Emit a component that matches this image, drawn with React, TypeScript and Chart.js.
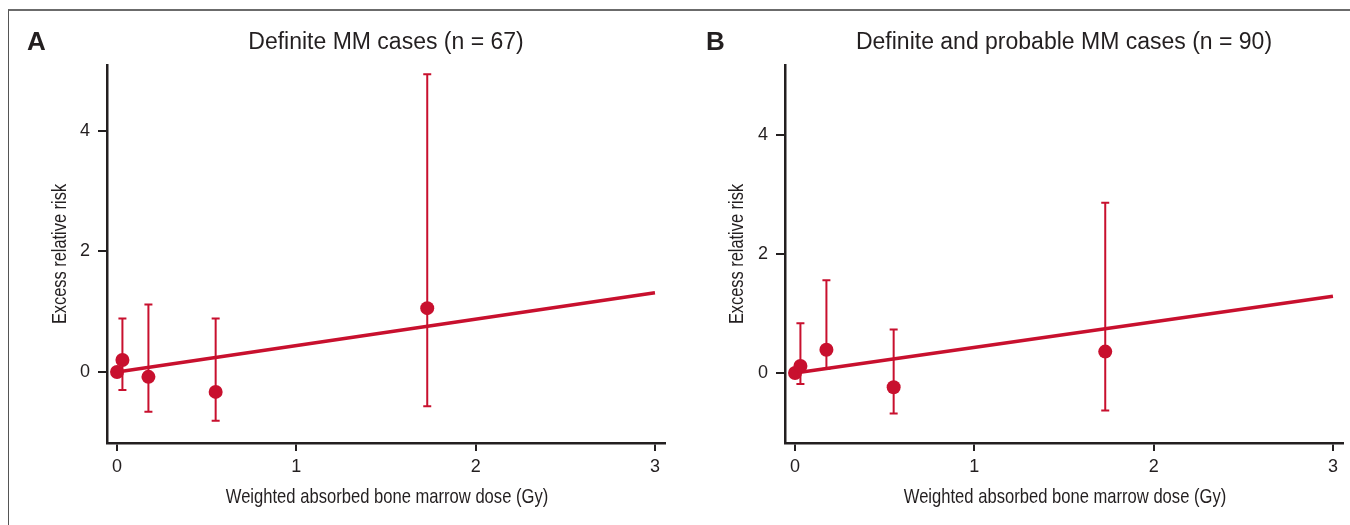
import React, { useEffect, useRef } from "react";
import { Chart, registerables } from "chart.js";

Chart.register(...registerables);

const RED = "#C8102E";
const INK = "#231F20";

// Panel A: definite MM cases (n = 67)
const doseA = [0, 0.03, 0.175, 0.55, 1.73];
const errA = [0, 0.2, -0.08, -0.33, 1.06];
const lowerA: (number | null)[] = [null, -0.3, -0.66, -0.81, -0.57];
const upperA: (number | null)[] = [null, 0.89, 1.12, 0.89, 4.94];
const fitDoseA = [0, 3];
const fitErrA = [0, 1.316];

// Panel B: definite and probable MM cases (n = 90)
const doseB = [0, 0.03, 0.175, 0.55, 1.73];
const errB = [0, 0.12, 0.39, -0.24, 0.36];
const lowerB: (number | null)[] = [null, -0.185, 0.07, -0.68, -0.63];
const upperB: (number | null)[] = [null, 0.835, 1.56, 0.73, 2.86];
const fitDoseB = [0, 3];
const fitErrB = [0, 1.29];

const xTicks = [0, 1, 2, 3];
const yTicks = [0, 2, 4];

const xTitle = "Weighted absorbed bone marrow dose (Gy)";
const yTitle = "Excess relative risk";

const SANS = '"Liberation Sans", Arial, Helvetica, sans-serif';

type PanelProps = {
  letter: string;
  title: string;
  dose: number[];
  err: number[];
  lower: (number | null)[];
  upper: (number | null)[];
  fitDose: number[];
  fitErr: number[];
  width: number;
  left: number;
  padRight: number;
  yAxisWidth: number;
  yMin: number;
  yMax: number;
  yTitleX: number;
  letterX: number;
};

function Panel(p: PanelProps) {
  const ref = useRef<HTMLCanvasElement | null>(null);

  useEffect(() => {
    if (!ref.current) return;

    const errorBars = {
      id: "errorBars",
      beforeDatasetsDraw(chart: any) {
        const { ctx, scales } = chart;
        const xs = scales.x;
        const ys = scales.y;
        ctx.save();
        ctx.strokeStyle = RED;
        ctx.lineWidth = 2;
        p.dose.forEach((d, i) => {
          const lo = p.lower[i];
          const hi = p.upper[i];
          if (lo == null || hi == null) return;
          const px = xs.getPixelForValue(d);
          const pLo = ys.getPixelForValue(lo);
          const pHi = ys.getPixelForValue(hi);
          ctx.beginPath();
          ctx.moveTo(px, pLo);
          ctx.lineTo(px, pHi);
          ctx.moveTo(px - 4, pLo);
          ctx.lineTo(px + 4, pLo);
          ctx.moveTo(px - 4, pHi);
          ctx.lineTo(px + 4, pHi);
          ctx.stroke();
        });
        ctx.restore();
      },
    };

    const titles = {
      id: "panelTitles",
      afterDraw(chart: any) {
        const { ctx, chartArea } = chart;
        const cx = (chartArea.left + chartArea.right) / 2;
        const cy = (chartArea.top + chartArea.bottom) / 2;
        ctx.save();
        ctx.fillStyle = INK;
        ctx.textBaseline = "middle";
        ctx.textAlign = "center";
        ctx.font = "23px " + SANS;
        ctx.fillText(p.title, cx, 43);
        ctx.textAlign = "left";
        ctx.font = "bold 26px " + SANS;
        ctx.fillText(p.letter, p.letterX, 43);

        // condensed axis titles
        ctx.textAlign = "center";
        ctx.font = "21px " + SANS;
        ctx.save();
        ctx.translate(cx + 1, 497);
        ctx.scale(0.79, 1);
        ctx.fillText(xTitle, 0, 0);
        ctx.restore();

        ctx.save();
        ctx.translate(p.yTitleX, cy);
        ctx.rotate(-Math.PI / 2);
        ctx.scale(0.78, 1);
        ctx.fillText(yTitle, 0, 0);
        ctx.restore();
        ctx.restore();
      },
    };

    const chart = new Chart(ref.current, {
      type: "scatter",
      data: {
        datasets: [
          {
            type: "scatter",
            data: p.dose.map((d, i) => ({ x: d, y: p.err[i] })),
            backgroundColor: RED,
            borderColor: RED,
            borderWidth: 0,
            pointRadius: 7,
            pointHoverRadius: 7,
          },
          {
            type: "line",
            data: p.fitDose.map((d, i) => ({ x: d, y: p.fitErr[i] })),
            borderColor: RED,
            borderWidth: 3.5,
            pointRadius: 0,
            fill: false,
          } as any,
        ],
      },
      options: {
        animation: false,
        responsive: false,
        devicePixelRatio: 1,
        events: [],
        layout: { padding: { top: 65, right: p.padRight, left: 0, bottom: 0 } },
        plugins: {
          legend: { display: false },
          tooltip: { enabled: false },
          title: { display: false },
        },
        scales: {
          x: {
            type: "linear",
            min: -0.056,
            max: 3.056,
            afterFit(scale: any) {
              scale.height = 82;
            },
            afterBuildTicks(scale: any) {
              scale.ticks = xTicks.map((v) => ({ value: v }));
            },
            grid: {
              display: true,
              drawOnChartArea: false,
              drawTicks: true,
              tickLength: 8,
              color: INK,
              lineWidth: 2,
            },
            border: { display: true, color: INK, width: 2.5 },
            ticks: {
              padding: 5,
              color: INK,
              font: { family: SANS, size: 18 },
              maxRotation: 0,
              callback: (v: any) => String(v),
            },
            title: { display: false },
          },
          y: {
            type: "linear",
            min: p.yMin,
            max: p.yMax,
            afterFit(scale: any) {
              scale.width = p.yAxisWidth;
            },
            afterBuildTicks(scale: any) {
              scale.ticks = yTicks.map((v) => ({ value: v }));
            },
            grid: {
              display: true,
              drawOnChartArea: false,
              drawTicks: true,
              tickLength: 9,
              color: INK,
              lineWidth: 2,
            },
            border: { display: true, color: INK, width: 2.5 },
            ticks: {
              padding: 8,
              color: INK,
              font: { family: SANS, size: 18 },
              callback: (v: any) => String(v),
            },
            title: { display: false },
          },
        },
      },
      plugins: [errorBars, titles],
    } as any);

    return () => {
      chart.destroy();
    };
  }, []);

  return (
    <canvas
      ref={ref}
      width={p.width}
      height={525}
      style={{ position: "absolute", left: p.left, top: 0, width: p.width, height: 525 }}
    />
  );
}

export default function App() {
  return (
    <div
      style={{
        position: "fixed",
        left: 0,
        top: 0,
        width: 1350,
        height: 525,
        background: "#fff",
        overflow: "hidden",
      }}
    >
      <div
        style={{
          position: "absolute",
          left: 8,
          top: 9,
          right: 0,
          bottom: 0,
          borderTop: "2px solid #6b6b6b",
          borderLeft: "1.5px solid #555",
        }}
      />
      <Panel
        letter="A"
        title="Definite MM cases (n = 67)"
        dose={doseA}
        err={errA}
        lower={lowerA}
        upper={upperA}
        fitDose={fitDoseA}
        fitErr={fitErrA}
        width={680}
        left={0}
        padRight={15}
        yAxisWidth={107}
        yMin={-1.178}
        yMax={5.095}
        yTitleX={60}
        letterX={27}
      />
      <Panel
        letter="B"
        title="Definite and probable MM cases (n = 90)"
        dose={doseB}
        err={errB}
        lower={lowerB}
        upper={upperB}
        fitDose={fitDoseB}
        fitErr={fitErrB}
        width={670}
        left={680}
        padRight={5}
        yAxisWidth={105}
        yMin={-1.176}
        yMax={5.176}
        yTitleX={57}
        letterX={26}
      />
    </div>
  );
}
